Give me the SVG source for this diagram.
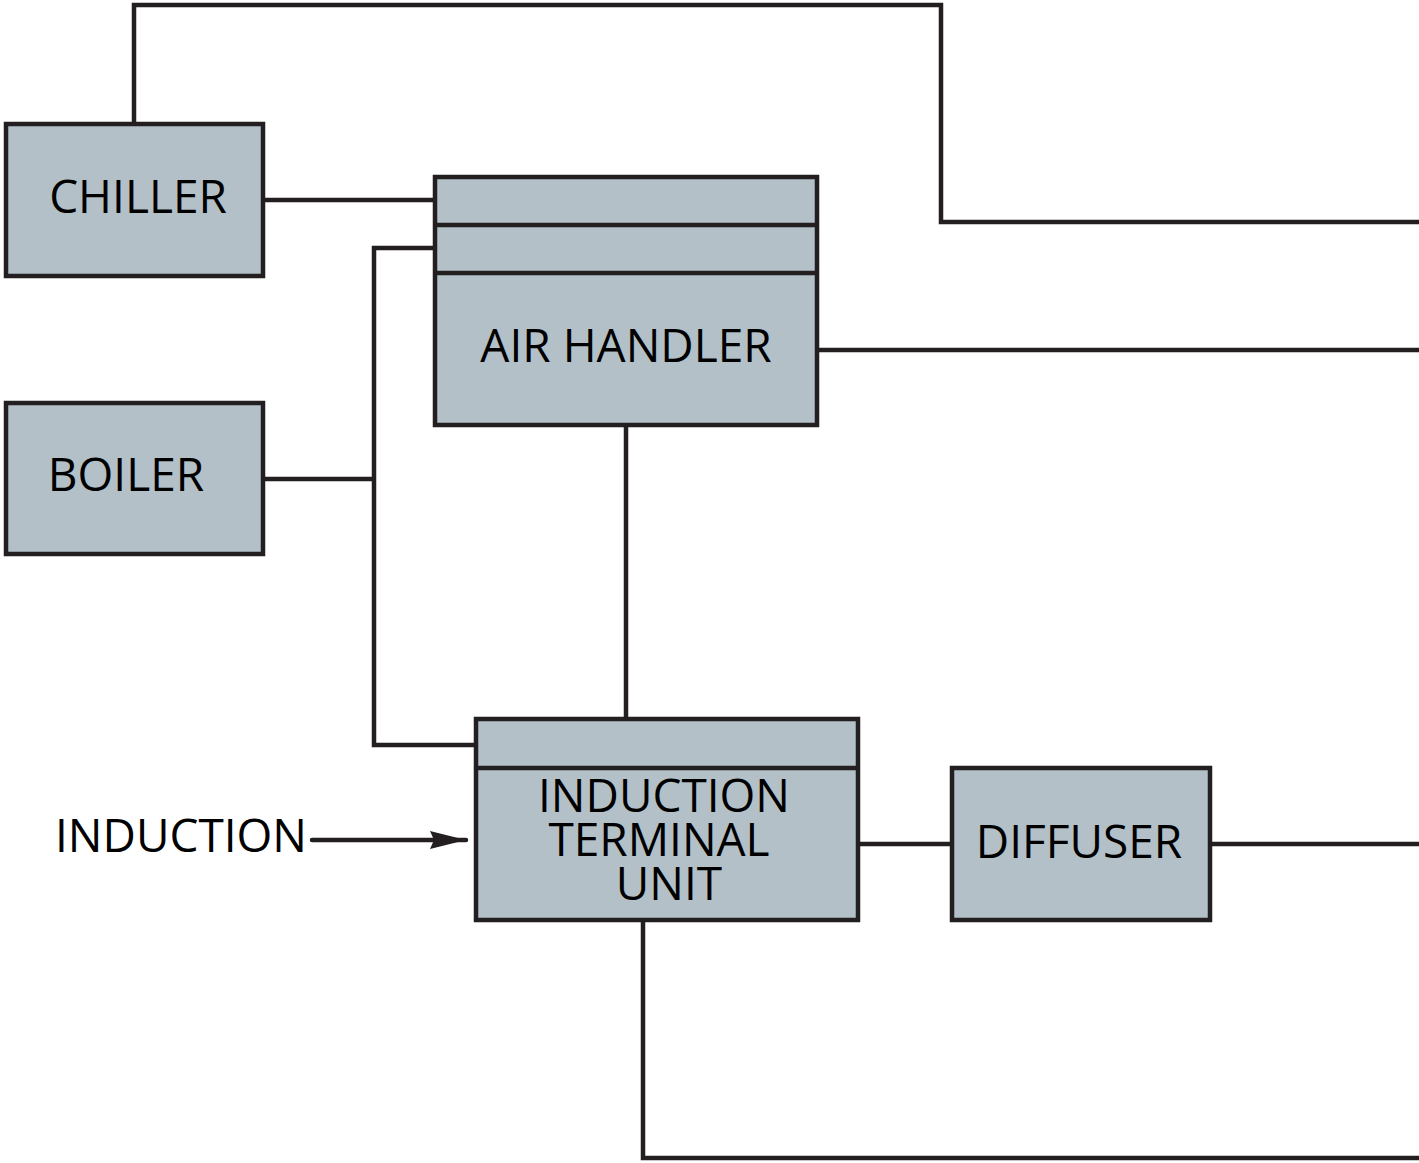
<svg xmlns="http://www.w3.org/2000/svg" width="1419" height="1163" viewBox="0 0 1419 1163">
<style>
.box{fill:#B3C0C8;stroke:#231F20;stroke-width:4.5}
.div{stroke:#231F20;stroke-width:4.5;fill:none}
.ln{stroke:#231F20;stroke-width:4.5;fill:none}
.t{font-family:"Open Sans","Noto Sans",sans-serif;font-size:46px;fill:#000;text-anchor:middle}
</style>
<defs>
<marker id="ah" markerUnits="userSpaceOnUse" markerWidth="36" markerHeight="18" refX="36" refY="9" orient="auto">
<path d="M0,0 L36,9 L0,18 L4,9 Z" fill="#231F20"/>
</marker>
</defs>
<rect width="1419" height="1163" fill="#fff"/>
<g id="connectors">
<polyline class="ln" points="134,124 134,5 941,5 941,222 1419,222"/>
<line class="ln" x1="263" y1="200" x2="435" y2="200"/>
<polyline class="ln" points="435,248 374,248 374,745 476,745"/>
<line class="ln" x1="263" y1="479" x2="374" y2="479"/>
<line class="ln" x1="817" y1="350" x2="1419" y2="350"/>
<line class="ln" x1="626" y1="425" x2="626" y2="719"/>
<line class="ln" x1="858" y1="844" x2="952" y2="844"/>
<line class="ln" x1="1210" y1="844" x2="1419" y2="844"/>
<polyline class="ln" points="643,920 643,1158 1419,1158"/>
<line class="ln" x1="312" y1="840" x2="466" y2="840" stroke-linecap="round" marker-end="url(#ah)"/>
</g>
<g id="chiller">
<rect class="box" x="6" y="124" width="257" height="152"/>
<text class="t" x="138" y="213">CHILLER</text>
</g>
<g id="boiler">
<rect class="box" x="6" y="403" width="257" height="151"/>
<text class="t" x="126" y="491">BOILER</text>
</g>
<g id="air-handler">
<rect class="box" x="435" y="177" width="382" height="248"/>
<line class="div" x1="435" y1="225" x2="817" y2="225"/>
<line class="div" x1="435" y1="273" x2="817" y2="273"/>
<text class="t" x="626" y="362">AIR HANDLER</text>
</g>
<g id="induction-terminal-unit">
<rect class="box" x="476" y="719" width="382" height="201"/>
<line class="div" x1="476" y1="768" x2="858" y2="768"/>
<text class="t" x="664" y="812">INDUCTION</text>
<text class="t" x="659" y="856">TERMINAL</text>
<text class="t" x="669" y="900">UNIT</text>
</g>
<g id="diffuser">
<rect class="box" x="952" y="768" width="258" height="152"/>
<text class="t" x="1079" y="858">DIFFUSER</text>
</g>
<g id="induction-label">
<text class="t" x="181" y="852">INDUCTION</text>
</g>
</svg>
